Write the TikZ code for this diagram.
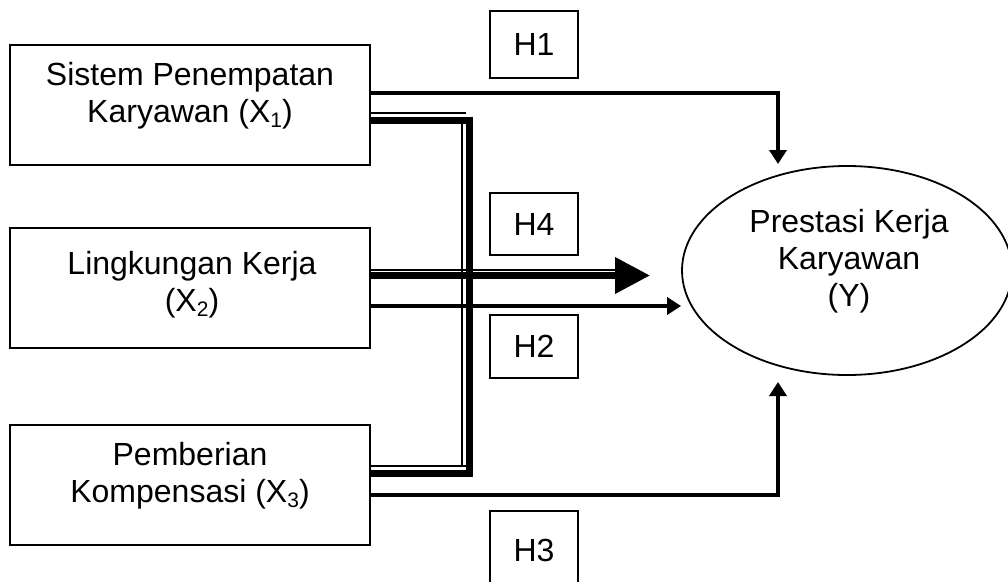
\documentclass[tikz,border=0pt]{standalone}
\usepackage{fontspec}
\setmainfont{Liberation Sans}
\usetikzlibrary{arrows.meta,shapes.geometric}
\newcommand{\mysub}[1]{\raisebox{-4.5pt}{\fontsize{21}{21}\selectfont #1}}
\begin{document}
\begin{tikzpicture}[x=1pt,y=-1pt,
  box/.style={draw,line width=2pt,minimum width=360pt,minimum height=120pt,inner sep=0pt},
  hbox/.style={draw,line width=1.8pt,minimum width=88pt,inner sep=0pt,font=\fontsize{32}{36.8}\selectfont},
  txt/.style={align=center,inner sep=0pt,font=\fontsize{32}{36.8}\selectfont},
  conn/.style={line width=3.5pt},
  thinline/.style={line width=2.3pt},
  thickline/.style={line width=7pt},
  tip/.style={-{Triangle[width=17pt,length=14pt]}}
]
\clip (0,0) rectangle (1008,581);
\fill[white] (0,0) rectangle (1008,581);

% boxes
\node[box] (x1) at (190,105) {};
\node[box] (x2) at (190,288) {};
\node[box] (x3) at (190,484.5) {};
\node[txt] (x1t) at (190,97) {\strut Sistem Penempatan\\\strut Karyawan (X\mysub{1})};
\node[txt] (x2t) at (192,286) {\strut Lingkungan Kerja\\\strut (X\mysub{2})};
\node[txt] (x3t) at (190,477) {\strut Pemberian\\\strut Kompensasi (X\mysub{3})};

% ellipse
\node[draw,ellipse,line width=1.8pt,minimum width=330pt,minimum height=209pt,inner sep=0pt] (yy) at (847,270.5) {};
\node[txt] (yt) at (849,262) {\strut Prestasi Kerja\\\strut Karyawan\\\strut (Y)};

% hypothesis boxes
\node[hbox,minimum height=67pt] (h1) at (534,44.5) {H1};
\node[hbox,minimum height=62pt] (h4) at (534,224) {H4};
\node[hbox,minimum height=63pt] (h2) at (534,346.5) {H2};
\node[hbox,minimum height=78pt] (h3) at (534,550) {H3};

% coordinates
\coordinate (h1end) at (778,164);
\coordinate (h3end) at (778,382);
\coordinate (x1a) at ([yshift=-8pt]x1.east);
\coordinate (x1aend) at (466,113);
\coordinate (x1b) at ([yshift=-15pt]x1.east);
\coordinate (v1) at (469,120);
\coordinate (v2) at (469,473);
\coordinate (x3b) at ([yshift=11.5pt]x3.east);
\coordinate (x3a) at ([yshift=18.5pt]x3.east);
\coordinate (x3aend) at (466,466);
\coordinate (t1) at (462,123);
\coordinate (t2) at (462,466);
\coordinate (x2a) at ([yshift=18pt]x2.east);
\coordinate (x2aend) at (616,270);
\coordinate (x2b) at ([yshift=12.5pt]x2.east);
\coordinate (a4) at (650,275.5);
\coordinate (x2c) at ([yshift=-18pt]x2.east);

% H1 and H3
\draw[conn,tip] ([yshift=12pt]x1.east) -| (h1end);
\draw[conn,tip] ([yshift=-10.5pt]x3.east) -| (h3end);

% H4 double lines
\draw[thinline] (x1a) -- (x1aend);
\draw[thinline] (t1) -- (t2);
\draw[thinline] (x3a) -- (x3aend);
\draw[thickline] (x1b) -- (v1) -- (v2) -- (x3b);
\draw[thinline] (x2a) -- (x2aend);
\draw[thickline,-{Triangle[width=35pt,length=35pt]}] (x2b) -- (a4);

% H2
\draw[conn,tip] (x2c) -- (x2c -| yy.west);
\end{tikzpicture}
\end{document}
